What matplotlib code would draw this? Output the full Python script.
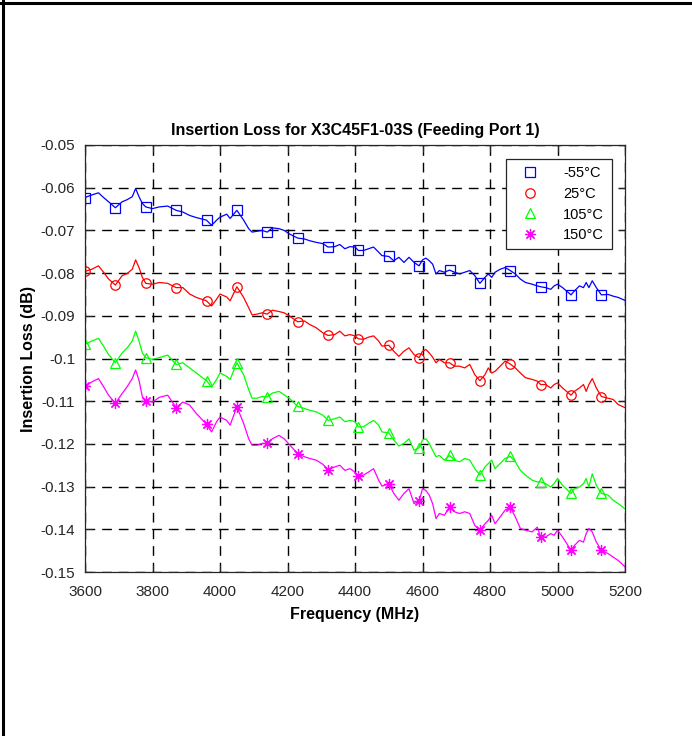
import matplotlib
matplotlib.use("Agg")
import matplotlib.pyplot as plt
from matplotlib.lines import Line2D
import numpy as np

plt.rcParams['font.family'] = ['Liberation Sans', 'DejaVu Sans']

# frequency points (MHz), shared by all four curves
freq = [3600, 3620, 3640, 3655, 3670, 3690, 3710, 3725, 3740, 3750,
        3760, 3770, 3780, 3800, 3820, 3845, 3870, 3890, 3910, 3930,
        3960, 3975, 3990, 4000, 4020, 4030, 4050, 4070, 4085, 4095,
        4110, 4125, 4140, 4155, 4175, 4190, 4205, 4230, 4250, 4265,
        4285, 4305, 4320, 4340, 4355, 4370, 4385, 4400, 4410, 4425,
        4440, 4455, 4470, 4480, 4500, 4515, 4530, 4545, 4560, 4575,
        4590, 4600, 4610, 4620, 4630, 4640, 4650, 4665, 4680, 4695,
        4710, 4725, 4740, 4755, 4770, 4785, 4795, 4805, 4815, 4830,
        4845, 4860, 4875, 4890, 4905, 4925, 4940, 4950, 4965, 4980,
        4990, 5000, 5015, 5040, 5050, 5065, 5077, 5085, 5093, 5103,
        5115, 5130, 5150, 5165, 5180, 5200]

# marker positions (every 90 MHz)
marker_freq = [3600, 3690, 3780, 3870, 3960, 4050, 4140, 4230, 4320,
               4410, 4500, 4590, 4680, 4770, 4860, 4950, 5040, 5130]

loss_m55 = [-0.0623, -0.0617, -0.0612, -0.0623, -0.0633, -0.0647, -0.0633, -0.0628, -0.0621, -0.0602,
            -0.0621, -0.0637, -0.0645, -0.0649, -0.0645, -0.0643, -0.0653, -0.0657, -0.0665, -0.0670,
            -0.0676, -0.0688, -0.0676, -0.0669, -0.0662, -0.0672, -0.0653, -0.0676, -0.0696, -0.0704,
            -0.0702, -0.0700, -0.0704, -0.0694, -0.0696, -0.0700, -0.0708, -0.0718, -0.0720, -0.0724,
            -0.0728, -0.0731, -0.0739, -0.0738, -0.0733, -0.0743, -0.0738, -0.0739, -0.0747, -0.0747,
            -0.0743, -0.0739, -0.0751, -0.0759, -0.0761, -0.0771, -0.0763, -0.0775, -0.0763, -0.0775,
            -0.0783, -0.0769, -0.0765, -0.0771, -0.0779, -0.0802, -0.0794, -0.0798, -0.0793, -0.0798,
            -0.0802, -0.0798, -0.0794, -0.0806, -0.0824, -0.0810, -0.0802, -0.0810, -0.0798, -0.0791,
            -0.0787, -0.0794, -0.0802, -0.0814, -0.0822, -0.0826, -0.0830, -0.0832, -0.0834, -0.0838,
            -0.0830, -0.0826, -0.0834, -0.0851, -0.0842, -0.0830, -0.0834, -0.0822, -0.0834, -0.0818,
            -0.0834, -0.0851, -0.0850, -0.0854, -0.0857, -0.0864]

loss_25 = [-0.0796, -0.0791, -0.0783, -0.0798, -0.0814, -0.0828, -0.0806, -0.0801, -0.0791, -0.0769,
           -0.0787, -0.0810, -0.0824, -0.0826, -0.0822, -0.0824, -0.0834, -0.0834, -0.0849, -0.0857,
           -0.0865, -0.0877, -0.0861, -0.0849, -0.0856, -0.0865, -0.0832, -0.0857, -0.0881, -0.0898,
           -0.0896, -0.0893, -0.0896, -0.0887, -0.0890, -0.0893, -0.0900, -0.0914, -0.0912, -0.0920,
           -0.0928, -0.0940, -0.0946, -0.0944, -0.0936, -0.0947, -0.0944, -0.0947, -0.0954, -0.0955,
           -0.0950, -0.0947, -0.0959, -0.0971, -0.0969, -0.0983, -0.0995, -0.0983, -0.0975, -0.0991,
           -0.0998, -0.0983, -0.0979, -0.0987, -0.0997, -0.1010, -0.1002, -0.1010, -0.1010, -0.1018,
           -0.1018, -0.1022, -0.1014, -0.1038, -0.1052, -0.1038, -0.1022, -0.1034, -0.1030, -0.1018,
           -0.1006, -0.1013, -0.1022, -0.1034, -0.1045, -0.1049, -0.1053, -0.1061, -0.1061, -0.1069,
           -0.1061, -0.1057, -0.1069, -0.1086, -0.1077, -0.1069, -0.1061, -0.1077, -0.1061, -0.1047,
           -0.1069, -0.1089, -0.1093, -0.1096, -0.1108, -0.1115]

loss_105 = [-0.0967, -0.0959, -0.0953, -0.0971, -0.0991, -0.1010, -0.0987, -0.0975, -0.0959, -0.0936,
            -0.0959, -0.0987, -0.0998, -0.1002, -0.0998, -0.0992, -0.1014, -0.1010, -0.1022, -0.1034,
            -0.1052, -0.1067, -0.1049, -0.1034, -0.1042, -0.1049, -0.1010, -0.1038, -0.1073, -0.1093,
            -0.1093, -0.1089, -0.1090, -0.1081, -0.1077, -0.1085, -0.1093, -0.1112, -0.1117, -0.1121,
            -0.1125, -0.1133, -0.1145, -0.1141, -0.1137, -0.1148, -0.1145, -0.1148, -0.1160, -0.1160,
            -0.1152, -0.1145, -0.1156, -0.1172, -0.1174, -0.1191, -0.1205, -0.1199, -0.1188, -0.1215,
            -0.1209, -0.1191, -0.1188, -0.1199, -0.1215, -0.1230, -0.1227, -0.1238, -0.1227, -0.1238,
            -0.1242, -0.1234, -0.1238, -0.1258, -0.1273, -0.1254, -0.1246, -0.1238, -0.1258, -0.1246,
            -0.1234, -0.1229, -0.1242, -0.1262, -0.1273, -0.1285, -0.1289, -0.1289, -0.1293, -0.1301,
            -0.1293, -0.1281, -0.1297, -0.1316, -0.1305, -0.1301, -0.1293, -0.1281, -0.1301, -0.1270,
            -0.1297, -0.1316, -0.1320, -0.1332, -0.1340, -0.1352]

loss_150 = [-0.1065, -0.1055, -0.1047, -0.1066, -0.1086, -0.1105, -0.1082, -0.1066, -0.1047, -0.1027,
            -0.1051, -0.1090, -0.1099, -0.1102, -0.1091, -0.1086, -0.1115, -0.1102, -0.1109, -0.1129,
            -0.1154, -0.1172, -0.1148, -0.1137, -0.1145, -0.1156, -0.1113, -0.1152, -0.1188, -0.1203,
            -0.1203, -0.1199, -0.1199, -0.1188, -0.1180, -0.1188, -0.1201, -0.1223, -0.1230, -0.1234,
            -0.1238, -0.1248, -0.1260, -0.1254, -0.1250, -0.1262, -0.1258, -0.1266, -0.1275, -0.1273,
            -0.1266, -0.1258, -0.1285, -0.1299, -0.1293, -0.1316, -0.1332, -0.1316, -0.1305, -0.1340,
            -0.1334, -0.1305, -0.1309, -0.1320, -0.1340, -0.1375, -0.1363, -0.1367, -0.1348, -0.1359,
            -0.1363, -0.1359, -0.1363, -0.1391, -0.1402, -0.1387, -0.1379, -0.1367, -0.1387, -0.1371,
            -0.1355, -0.1348, -0.1371, -0.1398, -0.1402, -0.1406, -0.1395, -0.1418, -0.1418, -0.1410,
            -0.1414, -0.1402, -0.1418, -0.1449, -0.1438, -0.1426, -0.1430, -0.1410, -0.1398, -0.1406,
            -0.1430, -0.1449, -0.1457, -0.1465, -0.1473, -0.1488]

labels = ['-55°C', '25°C', '105°C', '150°C']
colors = ['#0000ff', '#ff0000', '#00ff00', '#ff00ff']
# last one is a matlab style asterisk (+ and x on top of each other)
markers = ['s', 'o', '^', (8, 2, 0)]

xticks = [3600, 3800, 4000, 4200, 4400, 4600, 4800, 5000, 5200]
yticks = [-0.15, -0.14, -0.13, -0.12, -0.11, -0.1, -0.09, -0.08, -0.07, -0.06, -0.05]

fig = plt.figure(figsize=(6.92, 7.36), dpi=100)
ax = fig.add_axes([85 / 692, 1 - 572 / 736, 540 / 692, 427 / 736])

mk_idx = list(np.where(np.isin(freq, marker_freq))[0])
series = [loss_m55, loss_25, loss_105, loss_150]
handles = []
for vals, c, m, lab in zip(series, colors, markers, labels):
    ms = 8 if isinstance(m, tuple) else 6.8
    ax.plot(freq, vals, color=c, linewidth=0.9, marker=m, markevery=mk_idx,
            markersize=ms, markerfacecolor='none', markeredgecolor=c, markeredgewidth=0.9)
    handles.append(Line2D([], [], linestyle='none', marker=m, markersize=ms,
                          markerfacecolor='none', markeredgecolor=c, markeredgewidth=0.9))

ax.set_xlim(3600, 5200)
ax.set_ylim(-0.15, -0.05)
ax.set_xticks(xticks)
ax.set_yticks(yticks)
ax.set_yticklabels(['%g' % v for v in yticks])

ax.grid(True, color='black', linestyle=(0, (7, 5)), linewidth=1.0)
ax.tick_params(axis='both', direction='in', top=True, right=True, length=5,
               labelsize=11, colors='#262626', width=0.8)
ax.tick_params(axis='x', pad=9)
ax.tick_params(axis='y', pad=7)
for s in ax.spines.values():
    s.set_color('#262626')
    s.set_linewidth(0.9)

ax.set_title('Insertion Loss for X3C45F1-03S (Feeding Port 1)', fontsize=11.5,
             fontweight='bold', pad=7)
ax.set_xlabel('Frequency (MHz)', fontsize=11.5, fontweight='bold', labelpad=6)
ax.set_ylabel('Insertion Loss (dB)', fontsize=11.5, fontweight='bold', labelpad=3)

leg = ax.legend(handles, labels, loc='upper right', bbox_to_anchor=(0.975, 0.967),
                borderaxespad=0, fontsize=10.5, fancybox=False, framealpha=1,
                edgecolor='#262626', handletextpad=1.2, labelspacing=0.45,
                borderpad=0.5, handlelength=2.2)
leg.get_frame().set_linewidth(0.9)

# outer frame lines (top and left edge of the picture)
fig.add_artist(Line2D([0, 1], [1 - 3 / 736, 1 - 3 / 736], color='black', linewidth=2.2,
                      transform=fig.transFigure))
fig.add_artist(Line2D([2.5 / 692, 2.5 / 692], [0, 1], color='black', linewidth=2.2,
                      transform=fig.transFigure))

plt.savefig('out.png', dpi=100)
